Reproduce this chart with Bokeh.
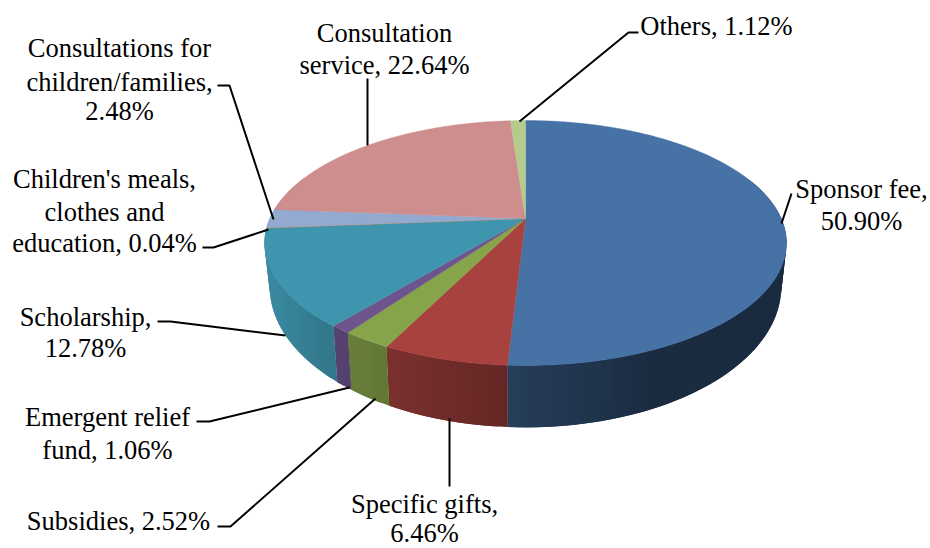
import math
import numpy as np
from bokeh.plotting import figure
from bokeh.models import Range1d
from bokeh.core.properties import value
from bokeh.embed import file_html
from bokeh.resources import INLINE

# ---- data (clockwise from 12 o'clock) ----
categories = ["Sponsor fee", "Specific gifts", "Subsidies", "Emergent relief fund", "Scholarship",
              "Children's meals, clothes and education", "Consultations for children/families",
              "Consultation service", "Others"]
shares = [50.90, 6.46, 2.52, 1.06, 12.78, 0.04, 2.48, 22.64, 1.12]
label_lines = [
    ["Sponsor fee,", "50.90%"],
    ["Specific gifts,", "6.46%"],
    ["Subsidies, 2.52%"],
    ["Emergent relief", "fund, 1.06%"],
    ["Scholarship,", "12.78%"],
    ["Children's meals,", "clothes and", "education, 0.04%"],
    ["Consultations for", "children/families,", "2.48%"],
    ["Consultation", "service, 22.64%"],
    ["Others, 1.12%"],
]

# ---- styles and layout ----
colors = ["#4672A6", "#A8423F", "#86A44A", "#6E548D", "#3F95AE", "#DB843D", "#93A9CF", "#CE8E8D", "#B5CA8D"]
label_x = [861, 424, 118, 107, 85, 104, 119, 384, 716]
label_y = [[188, 220], [503, 532], [520], [416, 449], [316, 347],
           [178, 211, 242], [47, 81, 110], [32, 64], [25]]
leaders = [
    [(781, 223), (791, 193)],
    [(449, 418), (449, 486)],
    [(375, 398), (230, 526), (217, 526)],
    [(349, 387), (209, 421), (196, 421)],
    [(285, 335), (170, 321), (157, 321)],
    [(268, 229), (213, 247), (202, 247)],
    [(273, 219), (229, 85), (217, 85)],
    [(367, 145), (367, 78)],
    [(519, 121), (628, 32), (638, 32)],
]
FONT = "Liberation Serif"
FONT_SIZE = "26.5px"

CX, CY, C, A, B = 525.0, 218.0, 255.7, 74.0, 0.2


def top_xy(theta):
    """Rim point of the upper face; theta is clockwise from 12 o'clock (radians)."""
    sx, cy = np.sin(theta), np.cos(theta)
    d = 1 + B * cy
    return CX + C * sx / d, (CY - A * cy) / d


def bottom_xy(theta):
    x, y = top_xy(theta)
    return CX + (x - CX) * 0.98, 287 + (y - 243) * 1.147


def shade(hex_color, x):
    f = np.interp(x, [270, 340, 400, 505, 510, 650, 785], [.92, .78, .72, .60, .55, .39, .38])
    r, g, b = (int(hex_color[i:i + 2], 16) for i in (1, 3, 5))
    return "#%02x%02x%02x" % (int(r * f), int(g * f), int(b * f))


p = figure(width=930, height=548, x_range=Range1d(0, 930), y_range=Range1d(548, 0),
           output_backend="svg", toolbar_location=None, min_border=0,
           background_fill_color="white", border_fill_color="white", outline_line_color=None)
p.axis.visible = False
p.grid.visible = False

total = sum(shares)
edges = np.cumsum([0] + shares) / total * 2 * math.pi

# side wall, in narrow shaded bands that overlap their neighbour
for i, col in enumerate(colors):
    a0, a1 = edges[i], edges[i + 1]
    n = max(2, int((a1 - a0) / 0.03))
    ts = np.linspace(a0, a1, n + 1)
    for k in range(n):
        t0, t1 = ts[k], ts[min(k + 2, n)]
        if math.cos((ts[k] + ts[k + 1]) / 2) > 0.35:
            continue
        x0, y0 = top_xy(t0)
        x1, y1 = top_xy(t1)
        x3, y3 = bottom_xy(t0)
        x2, y2 = bottom_xy(t1)
        p.patch([x0, x1, x2, x3], [y0, y1, y2, y3], fill_color=shade(col, (x0 + top_xy(ts[k + 1])[0]) / 2),
                line_color=None)

# upper face
for i, col in enumerate(colors):
    ts = np.linspace(edges[i], edges[i + 1], max(3, int((edges[i + 1] - edges[i]) / 0.01)))
    x, y = top_xy(ts)
    p.patch([CX] + list(x), [CY] + list(y), fill_color=col, line_color=col, line_width=0.4)

# leaders
for path in leaders:
    p.line([q[0] for q in path], [q[1] for q in path], line_color="black", line_width=2)

# labels
for lines, lx, lys in zip(label_lines, label_x, label_y):
    p.text([lx] * len(lines), lys, text=lines, text_font=value(FONT), text_font_size=FONT_SIZE,
           text_color="#000000", text_align="center", text_baseline="middle")

open("out.html", "w").write(file_html(p, INLINE))
